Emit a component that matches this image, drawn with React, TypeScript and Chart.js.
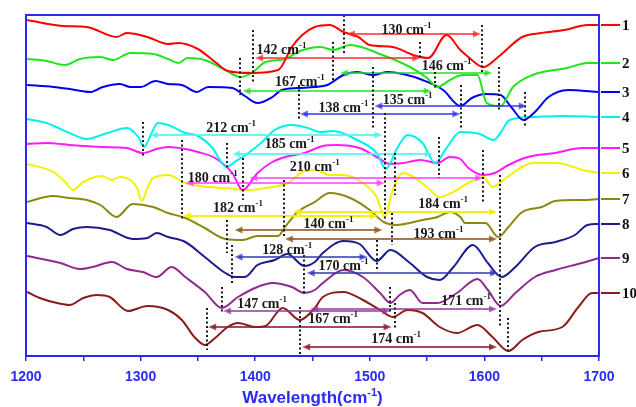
import React, { useEffect, useRef } from "react";
import { Chart, registerables } from "chart.js";

Chart.register(...registerables);

// ---------------- data (wavenumber cm-1, intensity a.u. with offsets) ----------------
const xTickLabels = [1200, 1300, 1400, 1500, 1600, 1700];
const sampleNames = ["1", "2", "3", "4", "5", "6", "7", "8", "9", "10"];

const s1 = [[1201,336],[1232,330],[1253,329],[1279,319],[1288,323],[1306,319],[1324,312],[1333,313],[1350,307],[1365,294],[1376,285],[1397,283],[1420,286],[1432,309],[1441,321],[1452,329],[1465,331],[1477,324],[1490,319],[1500,311],[1520,309],[1538,301],[1551,298],[1567,321],[1579,306],[1586,299],[1599,289],[1612,299],[1633,319],[1650,323],[1670,326],[1690,331],[1700,331]];
const s2 = [[1201,297],[1218,295],[1234,291],[1247,297],[1265,299],[1276,296],[1291,303],[1311,302],[1324,297],[1333,293],[1341,298],[1356,296],[1374,286],[1387,279],[1397,283],[1409,294],[1426,297],[1439,305],[1457,309],[1468,306],[1483,311],[1511,301],[1535,289],[1550,278],[1559,269],[1570,276],[1581,281],[1594,281],[1602,253],[1614,250],[1625,269],[1642,281],[1672,288],[1690,293],[1700,293]];
const s3 = [[1201,271],[1224,269],[1238,267],[1256,264],[1267,269],[1282,272],[1291,269],[1300,269],[1313,275],[1324,272],[1336,271],[1349,264],[1359,269],[1380,268],[1391,260],[1402,253],[1415,259],[1423,266],[1437,268],[1452,269],[1463,271],[1477,281],[1489,284],[1503,281],[1515,284],[1529,282],[1546,276],[1564,266],[1579,250],[1589,258],[1601,262],[1614,261],[1624,248],[1634,236],[1644,244],[1656,259],[1673,266],[1700,264]];
const s4 = [[1201,237],[1218,233],[1238,223],[1253,217],[1271,223],[1288,228],[1298,219],[1303,209],[1310,224],[1315,233],[1324,231],[1339,223],[1350,220],[1362,209],[1375,189],[1382,194],[1394,203],[1406,214],[1417,226],[1432,231],[1446,228],[1457,224],[1468,225],[1489,216],[1506,203],[1514,187],[1524,208],[1533,221],[1546,213],[1557,193],[1567,208],[1579,224],[1596,222],[1608,216],[1614,223],[1622,236],[1644,239],[1668,240],[1700,239]];
const s5 = [[1201,212],[1218,213],[1238,211],[1267,209],[1288,208],[1302,203],[1314,207],[1324,209],[1339,207],[1350,204],[1365,198],[1380,183],[1389,166],[1402,183],[1415,194],[1426,199],[1443,203],[1459,210],[1471,211],[1491,208],[1506,199],[1518,192],[1529,193],[1544,196],[1559,193],[1570,199],[1579,197],[1586,188],[1599,181],[1609,183],[1621,191],[1638,199],[1662,203],[1685,208],[1700,208]];
const s6 = [[1201,192],[1224,184],[1235,173],[1241,166],[1250,174],[1266,180],[1275,176],[1282,179],[1291,176],[1297,168],[1301,155],[1306,168],[1310,177],[1324,181],[1339,173],[1359,169],[1374,168],[1394,166],[1415,169],[1429,173],[1441,184],[1452,186],[1465,181],[1477,181],[1494,173],[1506,159],[1513,139],[1520,166],[1529,183],[1550,169],[1561,159],[1576,166],[1587,174],[1599,179],[1607,169],[1620,179],[1642,193],[1663,193],[1686,186],[1700,183]];
const s7 = [[1201,154],[1223,160],[1238,158],[1253,156],[1265,151],[1279,139],[1293,152],[1311,149],[1324,143],[1339,138],[1356,128],[1374,117],[1389,116],[1402,120],[1420,120],[1426,129],[1437,144],[1452,154],[1465,163],[1483,158],[1500,146],[1512,134],[1524,131],[1535,133],[1546,136],[1559,139],[1570,144],[1579,139],[1583,133],[1601,133],[1612,119],[1621,129],[1633,144],[1650,149],[1662,155],[1685,156],[1700,157]];
const s8 = [[1201,133],[1218,129],[1230,121],[1241,127],[1253,129],[1273,126],[1293,117],[1306,118],[1314,123],[1324,119],[1339,114],[1356,99],[1374,83],[1382,79],[1391,79],[1402,91],[1417,96],[1428,102],[1443,90],[1452,94],[1459,103],[1477,115],[1491,112],[1506,95],[1518,106],[1535,93],[1550,79],[1561,76],[1573,89],[1590,111],[1603,93],[1615,79],[1627,89],[1644,109],[1662,114],[1679,121],[1690,131],[1700,132]];
const s9 = [[1201,100],[1218,96],[1230,93],[1247,87],[1258,89],[1275,94],[1288,87],[1302,84],[1314,79],[1327,89],[1339,79],[1356,64],[1371,48],[1385,59],[1402,69],[1415,73],[1432,69],[1443,63],[1452,66],[1459,73],[1477,86],[1494,79],[1509,63],[1518,53],[1526,61],[1535,66],[1546,53],[1559,53],[1576,63],[1594,77],[1603,66],[1614,50],[1627,63],[1644,79],[1662,86],[1685,93],[1700,98]];
const s10 = [[1201,64],[1212,58],[1227,53],[1238,51],[1250,58],[1262,61],[1273,59],[1289,45],[1306,50],[1324,46],[1336,36],[1347,19],[1356,11],[1365,18],[1376,29],[1385,33],[1400,29],[1409,30],[1424,48],[1439,36],[1452,48],[1459,59],[1477,64],[1494,56],[1509,46],[1520,39],[1533,46],[1546,43],[1561,29],[1576,23],[1594,31],[1607,19],[1621,5],[1633,16],[1647,24],[1668,29],[1682,49],[1694,63],[1700,63]];

const spectra = [s1, s2, s3, s4, s5, s6, s7, s8, s9, s10];

// peak marker lines: [wavenumber, top, bottom]
const dropLines = [
  [1477.5,341,303],[1598,331,284],[1398,326,273],[1544,314,298],[1468,314,274],[1613,289,246],
  [1387,298,261],[1557,284,268],[1503,289,228],[1635,264,228],[1438,271,236],[1580,271,228],
  [1302,234,199],[1513,243,136],[1375,213,188],[1522,203,161],[1389,198,156],[1560,219,178],
  [1599,206,153],[1336,216,136],[1425,176,119],[1614,181,29],[1519,143,111],[1375,136,103],
  [1380,111,73],[1506,116,86],[1443,101,63],[1371,69,43],[1518,69,43],[1522,53,26],
  [1358,48,6],[1439,49,0],[1621,38,4]
];

// shift arrows: [from, to, level, sample group, shift value, label x, label y]
const shiftArrows = [
  [1480,1597,322,0,"130",1532,327],
  [1400,1544,298,0,"142",1423,307],
  [1474,1607,283,1,"146",1567,291],
  [1389,1554,265,1,"167",1439,275],
  [1504,1637,250,2,"135",1533,257],
  [1439,1579,242,2,"138",1477,249],
  [1308,1511,221,3,"212",1379,229],
  [1380,1555,202,3,"185",1430,213],
  [1395,1599,178,4,"210",1452,190],
  [1339,1513,173,4,"180",1363,179],
  [1337,1507,140,5,"182",1385,149],
  [1433,1611,144,5,"184",1564,153],
  [1382,1511,126,6,"140",1464,133],
  [1426,1611,117,6,"193",1560,123],
  [1382,1498,99,7,"128",1428,107],
  [1445,1612,83,7,"170",1477,91],
  [1372,1518,45,8,"147",1406,53],
  [1448,1611,47,8,"171",1584,56],
  [1359,1519,29,9,"167",1468,38],
  [1441,1611,9,9,"174",1523,18]
];

// ---------------- styles ----------------
const lineColors = ["#ff0000","#1ee61e","#0000ee","#00f0f0","#ff1aff","#f2f200","#8a8a12","#1c1c8c","#8e2a8e","#8b1c1c"];
const arrowColors = [
  "rgba(255,40,40,0.75)","rgba(40,220,40,0.75)","rgba(40,40,235,0.7)","rgba(90,240,240,0.85)",
  "rgba(255,60,255,0.75)","rgba(240,240,0,0.9)","rgba(150,85,30,0.8)","rgba(50,50,190,0.75)",
  "rgba(150,55,160,0.75)","rgba(140,30,45,0.8)"
];
const AXIS_BLUE = "#2a2af2";
const SERIF = '"Liberation Serif", "Times New Roman", serif';
const SANS = '"Liberation Sans", Arial, sans-serif';

function supText(ctx: CanvasRenderingContext2D, parts: [string, boolean][], x: number, baseline: number, size: number, family: string, align: "center" | "left") {
  const ss = Math.round(size * 0.62);
  let total = 0;
  const widths: number[] = [];
  for (const [t, sup] of parts) {
    ctx.font = `bold ${sup ? ss : size}px ${family}`;
    const w = ctx.measureText(t).width;
    widths.push(w);
    total += w;
  }
  let cx = align === "center" ? x - total / 2 : x;
  ctx.textAlign = "left";
  ctx.textBaseline = "alphabetic";
  parts.forEach(([t, sup], i) => {
    ctx.font = `bold ${sup ? ss : size}px ${family}`;
    ctx.fillText(t, cx, sup ? baseline - size * 0.42 : baseline);
    cx += widths[i];
  });
}

const annotations = {
  id: "annotations",
  afterDraw(chart: any) {
    const { ctx, chartArea: a, scales } = chart;
    const xs = scales.x, ys = scales.y;
    ctx.save();

    // shift arrows
    for (const [from, to, lvl, g] of shiftArrows as any[]) {
      const x1 = xs.getPixelForValue(from), x2 = xs.getPixelForValue(to);
      const y = Math.round(ys.getPixelForValue(lvl));
      ctx.strokeStyle = arrowColors[g];
      ctx.fillStyle = arrowColors[g];
      ctx.lineWidth = 2;
      ctx.setLineDash([]);
      ctx.beginPath();
      ctx.moveTo(x1 + 4, y);
      ctx.lineTo(x2 - 4, y);
      ctx.stroke();
      const head = (tip: number, dir: number) => {
        ctx.beginPath();
        ctx.moveTo(tip, y);
        ctx.lineTo(tip - dir * 8, y - 3.5);
        ctx.lineTo(tip - dir * 8, y + 3.5);
        ctx.closePath();
        ctx.fill();
      };
      head(x1, -1);
      head(x2, 1);
    }

    // dotted peak lines
    ctx.strokeStyle = "#1a1a1a";
    ctx.lineWidth = 2;
    ctx.setLineDash([2, 2.5]);
    for (const [w, t, b] of dropLines) {
      const x = Math.round(xs.getPixelForValue(w));
      ctx.beginPath();
      ctx.moveTo(x, ys.getPixelForValue(t));
      ctx.lineTo(x, ys.getPixelForValue(b));
      ctx.stroke();
    }
    ctx.setLineDash([]);

    // shift labels
    ctx.fillStyle = "#1a1a1a";
    for (const [, , , , lab, lx, ly] of shiftArrows as any[]) {
      const px = xs.getPixelForValue(lx);
      const py = ys.getPixelForValue(ly);
      supText(ctx, [[`${lab} cm`, false], ["-1", true]], px, py + 5, 14, SERIF, "center");
    }

    // frame
    ctx.strokeStyle = AXIS_BLUE;
    ctx.lineWidth = 2;
    ctx.strokeRect(a.left, a.top, a.right - a.left, a.bottom - a.top);

    // right-hand sample labels
    spectra.forEach((s, i) => {
      const y = ys.getPixelForValue(s[s.length - 1][1]);
      ctx.strokeStyle = lineColors[i];
      ctx.lineWidth = 2;
      ctx.beginPath();
      ctx.moveTo(a.right + 2, y);
      ctx.lineTo(a.right + 21, y);
      ctx.stroke();
      ctx.fillStyle = "#111";
      ctx.font = `bold 15px ${SERIF}`;
      ctx.textAlign = "left";
      ctx.textBaseline = "middle";
      ctx.fillText(sampleNames[i], a.right + 23, y + 1);
    });

    // axis title
    ctx.fillStyle = AXIS_BLUE;
    supText(ctx, [["Wavelength(cm", false], ["-1", true], [")", false]], (a.left + a.right) / 2, a.bottom + 47, 17, SANS, "center");

    ctx.restore();
  }
};

export default function App() {
  const ref = useRef<HTMLCanvasElement>(null);
  useEffect(() => {
    const chart = new Chart(ref.current as HTMLCanvasElement, {
      type: "line",
      data: {
        datasets: spectra.map((s, i) => ({
          label: sampleNames[i],
          data: s.map(([x, y]) => ({ x, y })),
          borderColor: lineColors[i],
          borderWidth: 2,
          pointRadius: 0,
          fill: false,
          cubicInterpolationMode: "monotone" as const,
        })),
      },
      options: {
        animation: false,
        responsive: false,
        devicePixelRatio: 1,
        events: [],
        layout: { padding: { left: 26, right: 37, top: 15, bottom: 0 } },
        plugins: { legend: { display: false }, tooltip: { enabled: false } },
        scales: {
          x: {
            type: "linear",
            min: 1200,
            max: 1700,
            border: { display: false },
            grid: { display: true, drawOnChartArea: false, drawTicks: true, tickLength: 5, color: AXIS_BLUE, lineWidth: 1.5 },
            ticks: {
              stepSize: 50,
              autoSkip: false,
              maxRotation: 0,
              padding: 8,
              color: AXIS_BLUE,
              font: { family: SANS, weight: "bold", size: 14 },
              callback: (v: any) => (xTickLabels.includes(Number(v)) ? String(v) : ""),
            },
            afterFit: (s: any) => {
              s.height = 51;
              s.paddingLeft = 0;
              s.paddingRight = 0;
            },
          },
          y: { display: false, min: 0, max: 341 },
        },
      },
      plugins: [annotations],
    } as any);
    return () => chart.destroy();
  }, []);
  return (
    <div style={{ position: "fixed", left: 0, top: 0, width: 636, height: 407, background: "#fff" }}>
      <canvas ref={ref} width={636} height={407} style={{ display: "block", width: 636, height: 407 }} />
    </div>
  );
}
